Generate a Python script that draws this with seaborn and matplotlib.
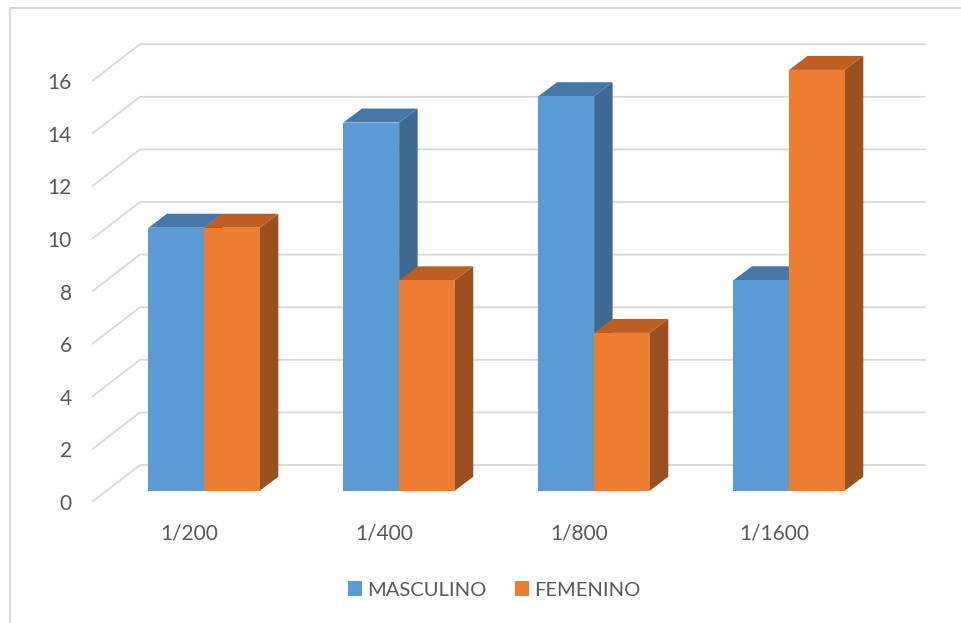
import numpy as np
import pandas as pd
import matplotlib.pyplot as plt
import seaborn as sns
from matplotlib.patches import Polygon, Patch
from matplotlib.lines import Line2D

# --- data ---
diluciones = ['1/200', '1/400', '1/800', '1/1600']
masculino = [10, 14, 15, 8]
femenino = [10, 8, 6, 16]
series = ['MASCULINO', 'FEMENINO']
yticks = [0, 2, 4, 6, 8, 10, 12, 14, 16]

front_colors = ['#5B9BD5', '#ED7D31']
top_colors = ['#4677A8', '#BE5F22']
side_colors = ['#3C6A91', '#9A4F1E']
grid_color = '#D9D9D9'
text_color = '#595959'

df = pd.DataFrame({
    'dil': diluciones * 2,
    'val': masculino + femenino,
    'sexo': [series[0]] * 4 + [series[1]] * 4,
})

# fake 3D: offsets in data units, relative to the bar front plane
bar_dx, bar_dy = 0.0949, 0.532      # bar depth
floor_dx, floor_dy = -0.0754, -0.43  # front edge of floor
back_dx, back_dy = 0.171, 0.977      # back wall

sns.set_theme(style='white')
plt.rcParams['font.family'] = ['Lato', 'DejaVu Sans']

fig = plt.figure(figsize=(9.61, 6.23), dpi=100)
ax = fig.add_axes([92 / 961, (623 - 503.85) / 623, 833.6 / 961, 465.5 / 623])

sns.barplot(data=df, x='dil', y='val', hue='sexo', palette=front_colors,
            width=0.571, saturation=1, legend=False, ax=ax, linewidth=0)

xmin, xmax = -0.575, 3.70
ax.set_xlim(xmin, xmax)
ax.set_ylim(-0.5, 17.2)

# gridlines: diagonal along left wall, then flat on the back wall
x_left = -0.5 + floor_dx
x_back_left = -0.5 + back_dx
for t in yticks:
    ax.plot([x_left, x_back_left, xmax], [t + floor_dy, t + back_dy, t + back_dy],
            color=grid_color, lw=1.3, zorder=1, solid_capstyle='butt')

# sides and tops of the bars
for i, p in enumerate(ax.patches):
    k = i // len(diluciones)
    x0, w, h = p.get_x(), p.get_width(), p.get_height()
    p.set_zorder(3 + k)
    side = Polygon([(x0 + w, 0), (x0 + w + bar_dx, bar_dy),
                    (x0 + w + bar_dx, h + bar_dy), (x0 + w, h)],
                   closed=True, facecolor=side_colors[k], lw=0, zorder=2.9 + k)
    top = Polygon([(x0, h), (x0 + w, h), (x0 + w + bar_dx, h + bar_dy),
                   (x0 + bar_dx, h + bar_dy)],
                  closed=True, facecolor=top_colors[k], lw=0, zorder=2.9 + k)
    ax.add_patch(side)
    ax.add_patch(top)

ax.set_xticks([i + floor_dx for i in range(len(diluciones))], diluciones)
ax.set_yticks([t + floor_dy for t in yticks], [str(t) for t in yticks])
ax.tick_params(axis='both', length=0, labelsize=15, colors=text_color)
ax.tick_params(axis='y', pad=14.4)
ax.tick_params(axis='x', pad=14.4)
ax.set_xlabel('')
ax.set_ylabel('')
for s in ax.spines.values():
    s.set_visible(False)
ax.set_facecolor('none')

handles = [Patch(facecolor=c, edgecolor='none') for c in front_colors]
fig.legend(handles, series, loc='center', bbox_to_anchor=(494.5 / 961, 33 / 623),
           ncol=2, frameon=False, fontsize=14.5, labelcolor=text_color,
           handlelength=0.7, handleheight=0.7, handletextpad=0.25, columnspacing=1.4)

# chart border (only left/top visible in the crop)
fig.add_artist(Line2D([10 / 961, 10 / 961], [0, 1 - 8 / 623], color=grid_color, lw=1.5))
fig.add_artist(Line2D([10 / 961, 1], [1 - 8 / 623, 1 - 8 / 623], color=grid_color, lw=1.5))

fig.savefig('out.png', dpi=100)
